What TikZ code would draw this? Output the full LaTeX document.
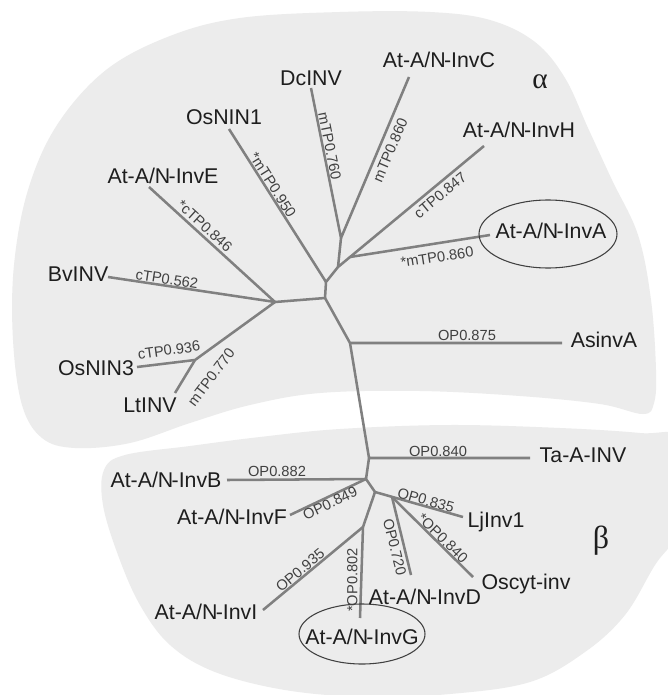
\documentclass[tikz,border=0pt]{standalone}
\usepackage{fontspec}
\setmainfont{Liberation Sans}
\newfontfamily\grk{Liberation Serif}
\usetikzlibrary{shapes.geometric}
\definecolor{blob}{HTML}{ECECEC}
\definecolor{br}{HTML}{808080}
\definecolor{txt}{HTML}{1E1E1E}
\newcommand{\Nh}{N\kern-0.08em-}
\begin{document}
\begin{tikzpicture}[x=0.75pt,y=-0.75pt,
  branch/.style={draw=br,line width=1.9pt,line join=round},
  leaf/.style={font=\fontsize{16}{18}\selectfont,text=txt,inner sep=0pt,text height=11.5pt,text depth=0pt},
  blabel/.style={font=\fontsize{11}{12}\selectfont,text=txt!85,inner sep=0pt,text height=7.9pt,text depth=0pt},
  oval/.style={ellipse,draw=txt!85,line width=0.8pt,inner sep=0pt},
  greek/.style={font=\grk\fontsize{22}{24}\selectfont,text=txt,inner sep=0pt}]
\useasboundingbox (0,0) rectangle (667,695);
\fill[white] (0,0) rectangle (667,695);
% regions
\fill[blob] plot[smooth cycle,tension=0.6] coordinates {
 (75,448) (42,438) (22,405) (13,340) (14,265) (28,190) (57,125) (106,70) (170,36) (240,18) (340,12) (430,12)
 (490,20) (535,42) (565,78) (588,128) (612,180) (638,235) (651,300) (656,370) (654,403) (643,414)
 (600,404) (520,396) (420,391) (320,393) (250,405) (190,423) (130,443)};
\fill[blob] plot[smooth cycle,tension=0.6] coordinates {
 (104,470) (125,455) (190,446) (260,437) (340,429) (450,425) (560,428) (640,433) (685,440)
 (685,520) (655,565) (625,615) (585,652) (530,682) (450,694) (366,697) (285,690) (215,672)
 (170,645) (140,605) (118,555) (103,505)};
% internal points
\coordinate (n1) at (325,298);
\coordinate (n2) at (326,282);
\coordinate (n3) at (338,267);
\coordinate (n3a) at (350,257);
\coordinate (n4) at (341,238);
\coordinate (g) at (275,302);
\coordinate (h) at (195,360);
\coordinate (a) at (350,343);
\coordinate (b1) at (369,458);
\coordinate (b2) at (366,479);
\coordinate (b3) at (375,492);
\coordinate (b4) at (392,497);
\coordinate (b5) at (363,527);
% leaf ends
\coordinate (eDc) at (311,88);
\coordinate (eC) at (409,77);
\coordinate (eOs1) at (229,129);
\coordinate (eE) at (149,187);
\coordinate (eH) at (484,146);
\coordinate (eA) at (490,235);
\coordinate (eBv) at (108,277);
\coordinate (eOs3) at (137,367);
\coordinate (eLt) at (175,393);
\coordinate (eAs) at (562,343);
\coordinate (eTa) at (530,458);
\coordinate (eB) at (227,480);
\coordinate (eF) at (290,515);
\coordinate (eI) at (263,610);
\coordinate (eG) at (360,618);
\coordinate (eD) at (411,575);
\coordinate (eOc) at (473,577);
\coordinate (eLj) at (463,517);
% branches
\draw[branch] (eDc) -- (n4) -- (eC);
\draw[branch] (n4) -- (n3) -- (eH);
\draw[branch] (n3a) -- (eA);
\draw[branch] (n3) -- (n2) -- (n1);
\draw[branch] (eOs1) -- (n2);
\draw[branch] (n1) -- (g);
\draw[branch] (eE) -- (g) -- (eBv);
\draw[branch] (g) -- (h) -- (eOs3);
\draw[branch] (h) -- (eLt);
\draw[branch] (n1) -- (a) -- (eAs);
\draw[branch] (a) -- (b1) -- (eTa);
\draw[branch] (b1) -- (b2) -- (eB);
\draw[branch] (b2) -- (eF);
\draw[branch] (b2) -- (b3) -- (eLj);
\draw[branch] (b4) -- (eD);
\draw[branch] (b4) -- (eOc);
\draw[branch] (b3) -- (b5) -- (eG);
\draw[branch] (b5) -- (eI);
% leaf labels
\node[leaf] (lDc) at (311,78) {DcINV};
\node[leaf] (lC) at (439,60) {At-A/\Nh InvC};
\node[leaf] (lOs1) at (224,117) {OsNIN1};
\node[leaf] (lE) at (163,176) {At-A/\Nh InvE};
\node[leaf] (lH) at (519,130) {At-A/\Nh InvH};
\node[leaf] (lA) at (551,231) {At-A/\Nh InvA};
\node[oval,minimum width=103.5pt,minimum height=51pt] (oA) at (548,234) {};
\node[leaf] (lBv) at (78,274) {BvINV};
\node[leaf] (lOs3) at (96,368) {OsNIN3};
\node[leaf] (lLt) at (150,405) {LtINV};
\node[leaf] (lAs) at (604,340) {AsinvA};
\node[leaf] (lTa) at (583,455) {Ta-A-INV};
\node[leaf] (lB) at (166,480) {At-A/\Nh InvB};
\node[leaf] (lF) at (232,517) {At-A/\Nh InvF};
\node[leaf] (lI) at (206,612) {At-A/\Nh InvI};
\node[leaf] (lG) at (362,637) {At-A/\Nh InvG};
\node[oval,minimum width=94.5pt,minimum height=45pt] (oG) at (362,634) {};
\node[leaf] (lD) at (425,597) {At-A/\Nh InvD};
\node[leaf] (lOc) at (526,582) {Oscyt-inv};
\node[leaf] (lLj) at (496,520) {LjInv1};
% greek
\node[greek] (alpha) at (540,82) {α};
\node[greek,font=\grk\fontsize{24}{26}\selectfont] (beta) at (601,541) {β};
% branch labels
\node[blabel,rotate=-8.5] (t1) at (167,279) {cTP0.562};
\node[blabel,rotate=8] (t2) at (169,350) {cTP0.936};
\node[blabel,rotate=53] (t3) at (211,377) {mTP0.770};
\node[blabel,rotate=-42.4] (t4) at (205,226) {*cTP0.846};
\node[blabel,rotate=-57.6] (t5) at (273,185) {*mTP0.950};
\node[blabel,rotate=-78.7] (t6) at (330,146) {mTP0.760};
\node[blabel,rotate=67] (t7) at (390,150) {mTP0.860};
\node[blabel,rotate=39.6] (t8) at (440,195) {cTP0.847};
\node[blabel,rotate=8.9] (t9) at (437,257) {*mTP0.860};
\node[blabel] (t10) at (467,335) {OP0.875};
\node[blabel] (t11) at (438,451) {OP0.840};
\node[blabel] (t12) at (277,471) {OP0.882};
\node[blabel,rotate=25] (t13) at (330,503) {OP0.849};
\node[blabel,rotate=39.7] (t14) at (300,570) {OP0.935};
\node[blabel,rotate=90] (t15) at (352,580) {*OP0.802};
\node[blabel,rotate=-76] (t16) at (395,547) {OP0.720};
\node[blabel,rotate=-44.6] (t17) at (443,538) {*OP0.840};
\node[blabel,rotate=-15.9] (t18) at (426,500) {OP0.835};
\end{tikzpicture}
\end{document}
